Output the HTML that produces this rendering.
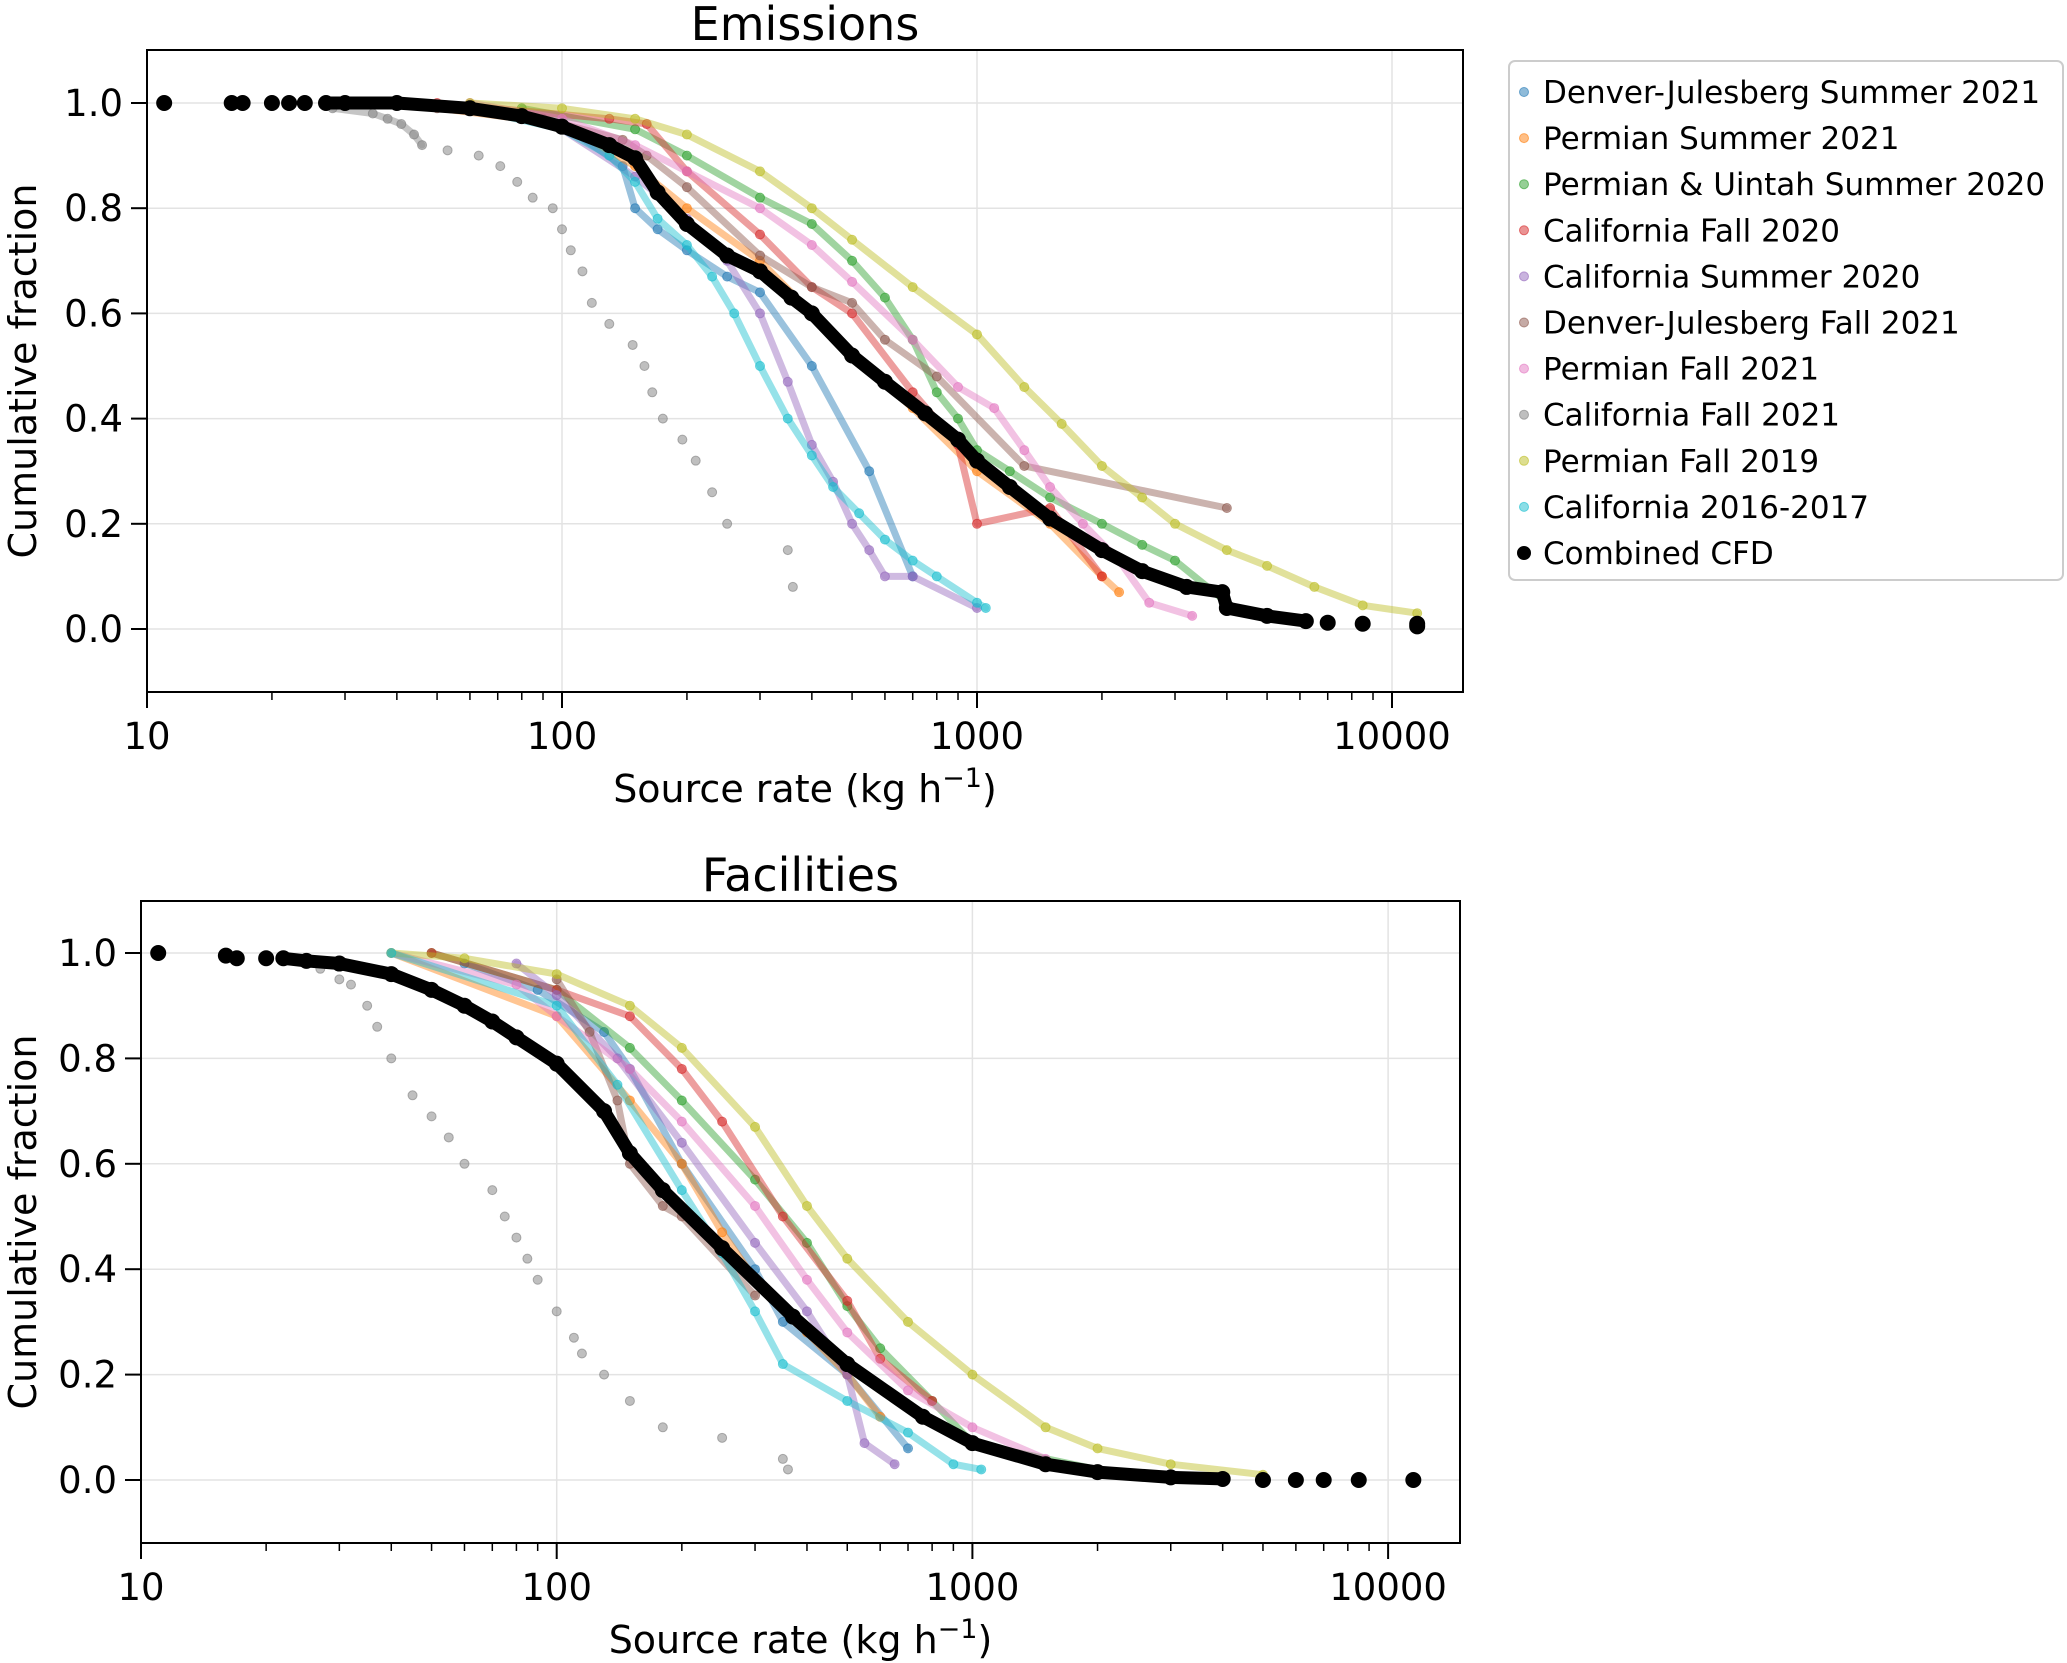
<!DOCTYPE html>
<html><head><meta charset="utf-8"><style>
html,body{margin:0;padding:0;background:#fff}
svg{display:block;font-family:"DejaVu Sans","Liberation Sans",sans-serif}
</style></head><body>
<svg id="fig" width="2067" height="1663" viewBox="0 0 2067 1663" xmlns="http://www.w3.org/2000/svg">
<g id="top"></g>
<g id="bot"></g>
<g id="legend"></g>
</svg>
<script>
// ===== data: Emissions panel (dense runs) =====
const emDJS21X=[60,80,100,140,150,170,200,250,300,400,550,700];
const emDJS21Y=[0.99,0.97,0.96,0.88,0.8,0.76,0.72,0.67,0.64,0.5,0.3,0.1];
const emPS21X=[40,100,150,200,300,400,500,700,1000,1500,2000,2200];
const emPS21Y=[1,0.96,0.88,0.8,0.7,0.6,0.52,0.42,0.3,0.2,0.1,0.07];
const emPUS20X=[80,150,200,300,400,500,600,700,800,900,1000,1200,1500,2000,2500,3000,4000];
const emPUS20Y=[0.99,0.95,0.9,0.82,0.77,0.7,0.63,0.55,0.45,0.4,0.34,0.3,0.25,0.2,0.16,0.13,0.05];
const emCF20X=[50,130,160,200,300,400,500,700,900,1000,1500,2000];
const emCF20Y=[1,0.97,0.96,0.87,0.75,0.65,0.6,0.45,0.35,0.2,0.23,0.1];
const emCS20X=[100,150,200,250,300,350,400,450,500,550,600,700,1000];
const emCS20Y=[0.95,0.86,0.78,0.7,0.6,0.47,0.35,0.28,0.2,0.15,0.1,0.1,0.04];
const emDJF21X=[50,90,140,160,200,300,400,500,600,800,1300,4000];
const emDJF21Y=[0.99,0.97,0.93,0.9,0.84,0.71,0.65,0.62,0.55,0.48,0.31,0.23];
const emPF21X=[60,100,150,200,300,400,500,700,900,1100,1300,1500,1800,2200,2600,3300];
const emPF21Y=[1,0.97,0.92,0.87,0.8,0.73,0.66,0.55,0.46,0.42,0.34,0.27,0.2,0.13,0.05,0.025];
const emCF21X=[27,28,35,38,41,44,46];
const emCF21Y=[1,0.99,0.98,0.97,0.96,0.94,0.92];
const emCF21SX=[53,63,71,78,85,95,100,105,112,118,130,148,158,165,175,195,210,230,250,350,360];
const emCF21SY=[0.91,0.9,0.88,0.85,0.82,0.8,0.76,0.72,0.68,0.62,0.58,0.54,0.5,0.45,0.4,0.36,0.32,0.26,0.2,0.15,0.08];
const emPF19X=[60,100,150,200,300,400,500,700,1000,1300,1600,2000,2500,3000,4000,5000,6500,8500,11500];
const emPF19Y=[1,0.99,0.97,0.94,0.87,0.8,0.74,0.65,0.56,0.46,0.39,0.31,0.25,0.2,0.15,0.12,0.08,0.045,0.03];
const emC1617X=[60,100,130,150,170,200,230,260,300,350,400,450,520,600,700,800,1000,1050];
const emC1617Y=[0.99,0.95,0.9,0.85,0.78,0.73,0.67,0.6,0.5,0.4,0.33,0.27,0.22,0.17,0.13,0.1,0.05,0.04];
const emCombX=[27,30,40,60,80,100,130,150,170,200,250,300,357,400,500,600,750,900,1000,1200,1500,2000,2500,3200,3900,4000,5000,6200];
const emCombY=[1,1,1,0.99,0.975,0.955,0.92,0.895,0.83,0.77,0.71,0.68,0.63,0.6,0.52,0.47,0.41,0.36,0.32,0.27,0.21,0.15,0.11,0.08,0.07,0.04,0.025,0.015];
const emCombSX=[11,16,17,20,22,24,7000,8500,11500,11500];
const emCombSY=[1,1,1,1,1,1,0.012,0.01,0.005,0.01];
// ===== data: Facilities panel =====
const faDJS21X=[60,90,130,150,200,300,350,500,700];
const faDJS21Y=[0.98,0.93,0.85,0.78,0.6,0.4,0.3,0.2,0.06];
const faPS21X=[40,100,150,200,250,300,400,500,600];
const faPS21Y=[1,0.88,0.72,0.6,0.47,0.38,0.28,0.2,0.12];
const faPUS20X=[50,100,150,200,300,400,500,600,800,1000,2000];
const faPUS20Y=[1,0.93,0.82,0.72,0.57,0.45,0.33,0.25,0.15,0.07,0.02];
const faCF20X=[50,100,150,200,250,350,500,600,800];
const faCF20Y=[1,0.93,0.88,0.78,0.68,0.5,0.34,0.23,0.15];
const faCS20X=[80,100,140,200,300,400,500,550,650];
const faCS20Y=[0.98,0.92,0.8,0.64,0.45,0.32,0.2,0.07,0.03];
const faDJF21X=[100,120,140,150,180,200,300];
const faDJF21Y=[0.95,0.85,0.72,0.6,0.52,0.5,0.35];
const faPF21X=[40,80,100,150,200,300,400,500,700,1000,1500];
const faPF21Y=[1,0.94,0.88,0.78,0.68,0.52,0.38,0.28,0.17,0.1,0.04];
const faCF21X=[];
const faCF21Y=[];
const faCF21SX=[27,30,32,35,37,40,45,50,55,60,70,75,80,85,90,100,110,115,130,150,180,250,350,360];
const faCF21SY=[0.97,0.95,0.94,0.9,0.86,0.8,0.73,0.69,0.65,0.6,0.55,0.5,0.46,0.42,0.38,0.32,0.27,0.24,0.2,0.15,0.1,0.08,0.04,0.02];
const faPF19X=[40,60,100,150,200,300,400,500,700,1000,1500,2000,3000,5000];
const faPF19Y=[1,0.99,0.96,0.9,0.82,0.67,0.52,0.42,0.3,0.2,0.1,0.06,0.03,0.01];
const faC1617X=[40,100,140,200,250,300,350,500,700,900,1050];
const faC1617Y=[1,0.9,0.75,0.55,0.43,0.32,0.22,0.15,0.09,0.03,0.02];
const faCombX=[22,25,30,40,50,60,70,80,100,130,150,180,250,370,500,760,1000,1500,2000,3000,4000];
const faCombY=[0.99,0.985,0.98,0.96,0.93,0.9,0.87,0.84,0.79,0.7,0.62,0.55,0.44,0.31,0.22,0.12,0.07,0.03,0.015,0.005,0.002];
const faCombSX=[11,16,17,20,5000,6000,7000,8500,11500];
const faCombSY=[1,0.995,0.99,0.99,0,0,0,0,0];
// tick labels
const xTickVals=[10,100,1000,10000];
const xTickLabels=["10","100","1000","10000"];
const yTickVals=[0,0.2,0.4,0.6,0.8,1.0];
const yTickLabels=["0.0","0.2","0.4","0.6","0.8","1.0"];
const seriesNames=["Denver-Julesberg Summer 2021","Permian Summer 2021","Permian & Uintah Summer 2020","California Fall 2020","California Summer 2020","Denver-Julesberg Fall 2021","Permian Fall 2021","California Fall 2021","Permian Fall 2019","California 2016-2017","Combined CFD"];
const colors=["#1f77b4","#ff7f0e","#2ca02c","#d62728","#9467bd","#8c564b","#e377c2","#7f7f7f","#bcbd22","#17becf","#000000"];

const NS="http://www.w3.org/2000/svg";
function mk(tag,attrs,parent){const e=document.createElementNS(NS,tag);for(const k in attrs)e.setAttribute(k,attrs[k]);parent.appendChild(e);return e;}
function slug(s){return s.toLowerCase().replace(/[^a-z0-9]+/g,'-').replace(/^-|-$/g,'');}

function panel(g,P,title,series){
  const xs=v=>P.x10+P.dec*Math.log10(v/10);
  const ys=v=>P.y0-(P.y0-P.y1)*v;
  for(const v of yTickVals){const l=mk('line',{x1:P.L,x2:P.R,y1:ys(v),y2:ys(v),stroke:'#e3e3e3','stroke-width':1.5},g);
    
    }
  for(const v of xTickVals){const l=mk('line',{x1:xs(v),x2:xs(v),y1:P.T,y2:P.B,stroke:'#e3e3e3','stroke-width':1.5},g);
    
    }
  series.forEach((s,i)=>{
    const sg=mk('g',{},g);
    
    
    const black=i===10;
    const pts=s[0].map((x,j)=>[xs(x),ys(s[1][j])]);
    if(pts.length>1){
      const d='M'+pts.map(p=>p[0].toFixed(1)+','+p[1].toFixed(1)).join('L');
      const path=mk('path',{d:d,fill:'none',stroke:colors[i],'stroke-width':black?13:7,'stroke-opacity':black?1:0.45,'stroke-linejoin':'round','stroke-linecap':'round'},sg);
      
      
    }
    const sp=(s[2]||[]).map((x,j)=>[xs(x),ys(s[3][j])]);
    pts.concat(sp).forEach(p=>{const c=mk('circle',{cx:p[0],cy:p[1],r:black?7.5:4.5,fill:colors[i],'fill-opacity':black?1:0.5,stroke:colors[i],'stroke-opacity':black?1:0.6,'stroke-width':1},sg);
      
      });
  });
  const fr=mk('rect',{x:P.L,y:P.T,width:P.R-P.L,height:P.B-P.T,fill:'none',stroke:'#000','stroke-width':2},g);
  
  
  yTickVals.forEach((v,i)=>{
    mk('line',{x1:P.L-16,x2:P.L,y1:ys(v),y2:ys(v),stroke:'#000','stroke-width':2},g);
    const t=mk('text',{x:P.L-24,y:ys(v)+13,'font-size':37,'text-anchor':'end',fill:'#000'},g);
    t.textContent=yTickLabels[i];
    
    
  });
  xTickVals.forEach((v,i)=>{
    mk('line',{x1:xs(v),x2:xs(v),y1:P.B,y2:P.B+16,stroke:'#000','stroke-width':2},g);
    const t=mk('text',{x:xs(v),y:P.B+57,'font-size':37,'text-anchor':'middle',fill:'#000'},g);
    t.textContent=xTickLabels[i];
    
    
    for(let m=2;m<=9;m++){const px=xs(v*m);if(px<P.R)mk('line',{x1:px,x2:px,y1:P.B,y2:P.B+8,stroke:'#000','stroke-width':1.5},g);}
  });
  const tt=mk('text',{x:(P.L+P.R)/2,y:P.T-10,'font-size':46,'text-anchor':'middle',fill:'#000'},g);
  tt.textContent=title;
  
  
  const xl=mk('text',{x:(P.L+P.R)/2,y:P.B+110,'font-size':38,'text-anchor':'middle',fill:'#000'},g);
  xl.innerHTML='Source rate (kg h<tspan dy="-15" font-size="27">−1</tspan><tspan dy="15">)</tspan>';
  
  
  const cy=(P.T+P.B)/2;
  const yl=mk('text',{x:0,y:0,'font-size':38,'text-anchor':'middle',fill:'#000',transform:'translate(36,'+cy+') rotate(-90)'},g);
  yl.textContent='Cumulative fraction';
  
  
}

panel(document.getElementById('top'),{L:147,R:1463,T:50,B:692,x10:147,dec:415,y0:629,y1:103},'Emissions',
 [[emDJS21X,emDJS21Y],[emPS21X,emPS21Y],[emPUS20X,emPUS20Y],[emCF20X,emCF20Y],[emCS20X,emCS20Y],[emDJF21X,emDJF21Y],[emPF21X,emPF21Y],[emCF21X,emCF21Y,emCF21SX,emCF21SY],[emPF19X,emPF19Y],[emC1617X,emC1617Y],[emCombX,emCombY,emCombSX,emCombSY]]);
panel(document.getElementById('bot'),{L:141,R:1460,T:901,B:1543,x10:141,dec:415.7,y0:1480,y1:953},'Facilities',
 [[faDJS21X,faDJS21Y],[faPS21X,faPS21Y],[faPUS20X,faPUS20Y],[faCF20X,faCF20Y],[faCS20X,faCS20Y],[faDJF21X,faDJF21Y],[faPF21X,faPF21Y],[faCF21X,faCF21Y,faCF21SX,faCF21SY],[faPF19X,faPF19Y],[faC1617X,faC1617Y],[faCombX,faCombY,faCombSX,faCombSY]]);

const lg=document.getElementById('legend');
const box=mk('rect',{x:1509,y:61,width:554,height:519,rx:6,fill:'#fff',stroke:'#cccccc','stroke-width':2},lg);


seriesNames.forEach((n,i)=>{
  const y=92+i*46.1;
  const eg=mk('g',{},lg);
  
  
  const black=i===10;
  mk('circle',{cx:1524,cy:y,r:black?6.5:4.5,fill:colors[i],'fill-opacity':black?1:0.5,stroke:colors[i],'stroke-opacity':black?1:0.6},eg);
  const t=mk('text',{x:1543,y:y+11,'font-size':31,fill:'#000'},eg);
  t.textContent=n;
});
</script>
</body></html>
